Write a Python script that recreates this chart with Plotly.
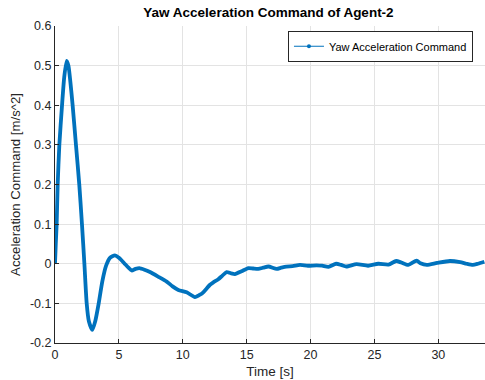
import plotly.graph_objects as go

# Yaw acceleration command samples for agent 2
time_s = [0, 0.06, 0.13, 0.21, 0.34, 0.55, 0.72, 0.91, 1.05, 1.2, 1.38, 1.64, 1.9,
          2.11, 2.3, 2.48, 2.65, 2.92, 3.15, 3.42, 3.7, 4.0, 4.3, 4.69, 5.0, 5.4,
          5.75, 6.0, 6.3, 6.6, 7.0, 7.43, 8.1, 8.74, 9.2, 9.65, 10.3, 10.95, 11.35,
          11.6, 12.13, 12.39, 12.78, 13.1, 13.43, 13.75, 14.08, 14.6, 15.13, 15.5,
          15.9, 16.3, 16.7, 17.35, 17.7, 18.1, 18.6, 19.17, 19.8, 20.47, 20.9, 21.4,
          22.0, 22.4, 22.8, 23.6, 24.5, 25.3, 26.1, 26.7, 27.1, 27.65, 28.3, 28.6,
          29.1, 29.9, 30.9, 31.7, 32.2, 32.7, 33.1, 33.6]
yaw_acc_cmd = [0, 0.05, 0.1, 0.2, 0.3, 0.4, 0.47, 0.512, 0.5, 0.46, 0.4, 0.3, 0.2,
               0.1, 0.0, -0.1, -0.145, -0.167, -0.145, -0.1, -0.045, -0.005, 0.015,
               0.021, 0.015, 0.002, -0.01, -0.017, -0.013, -0.011, -0.015, -0.021,
               -0.033, -0.045, -0.057, -0.066, -0.072, -0.084, -0.078, -0.072, -0.053,
               -0.047, -0.039, -0.03, -0.021, -0.024, -0.026, -0.019, -0.011, -0.012,
               -0.013, -0.01, -0.007, -0.013, -0.01, -0.007, -0.006, -0.003, -0.005,
               -0.004, -0.005, -0.008, 0.0, -0.003, -0.007, -0.001, -0.005, 0.0,
               -0.002, 0.007, 0.003, -0.003, 0.008, 0.001, -0.003, 0.002, 0.007,
               0.004, 0.0, -0.003, 0.0, 0.005]

series_name = "Yaw Acceleration Command"
x_ticks = [0, 5, 10, 15, 20, 25, 30]
y_ticks = [-0.2, -0.1, 0, 0.1, 0.2, 0.3, 0.4, 0.5, 0.6]
y_tick_text = ["-0.2", "-0.1", "0", "0.1", "0.2", "0.3", "0.4", "0.5", "0.6"]

line_color = "#0072BD"
axis_color = "#262626"
grid_color = "#e3e3e3"
font_family = "Liberation Sans, Arial, sans-serif"

fig = go.Figure()
# densely sampled signal drawn as a heavy line
fig.add_trace(go.Scatter(
    x=time_s, y=yaw_acc_cmd,
    mode="lines",
    name=series_name,
    showlegend=False,
    line=dict(color=line_color, width=3.8, shape="spline", smoothing=0.6),
))
# legend key: thin line with a point marker
fig.add_trace(go.Scatter(
    x=[None], y=[None],
    mode="lines+markers",
    name=series_name,
    line=dict(color=line_color, width=1.2),
    marker=dict(color=line_color, size=4),
))

fig.update_layout(
    width=485, height=380,
    margin=dict(l=55, r=0, t=26, b=37),
    paper_bgcolor="white", plot_bgcolor="white",
    font=dict(family=font_family, color=axis_color, size=12),
    title=dict(text="<b>Yaw Acceleration Command of Agent-2</b>",
               x=0.5536, xanchor="center", y=0.968, yanchor="middle",
               font=dict(size=13.5, color="#000000")),
    showlegend=True,
    legend=dict(x=0.972, xanchor="right", y=0.985, yanchor="top",
                bgcolor="white", bordercolor=axis_color, borderwidth=1,
                font=dict(size=11, color="#000000"),
                itemwidth=30, tracegroupgap=0),
)

fig.update_xaxes(
    range=[0, 33.65], tickvals=x_ticks, ticks="inside", ticklen=4,
    tickcolor=axis_color, showline=True, linecolor=axis_color, linewidth=1,
    mirror=False, showgrid=True, gridcolor=grid_color, gridwidth=1,
    zeroline=False, tickfont=dict(size=12.5),
    title=dict(text="Time [s]", font=dict(size=13.5), standoff=5),
)
fig.update_yaxes(
    range=[-0.2, 0.6], tickvals=y_ticks, ticktext=y_tick_text, ticks="inside",
    ticklen=4, tickcolor=axis_color, showline=True, linecolor=axis_color,
    linewidth=1, mirror=False, showgrid=True, gridcolor=grid_color, gridwidth=1,
    zeroline=False, tickfont=dict(size=12.5),
    title=dict(text="Acceleration Command [m/s^2]", font=dict(size=13.2), standoff=6),
)

fig.write_html("out.html", config={"displayModeBar": False})
